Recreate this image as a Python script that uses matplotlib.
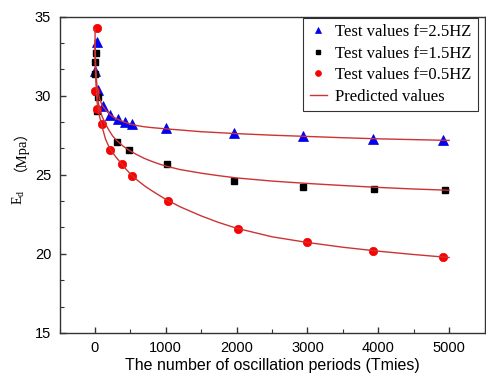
"""
Dynamic modulus vs number of oscillation periods, test values and predicted curves.
"""

import numpy as np
import matplotlib.pyplot as plt
from matplotlib.ticker import MultipleLocator

# test values
x_25 = [30, 5, 45, 120, 210, 320, 420, 530, 1000, 1960, 2940, 3920, 4910]
y_25 = [33.37, 31.54, 30.34, 29.33, 28.78, 28.50, 28.35, 28.18, 27.95, 27.64, 27.47, 27.28, 27.20]

x_15 = [20, 3, 5, 50, 30, 310, 485, 1015, 1965, 2942, 3940, 4945]
y_15 = [32.70, 32.12, 31.38, 29.92, 29.00, 27.07, 26.54, 25.68, 24.62, 24.21, 24.09, 24.05]

x_05 = [25, 3, 25, 100, 210, 385, 530, 1035, 2025, 2995, 3920, 4910]
y_05 = [34.26, 30.27, 29.18, 28.21, 26.58, 25.65, 24.94, 23.37, 21.58, 20.72, 20.19, 19.79]

# predicted curves (sampled along the drawn lines)
xp = [1, 10, 30, 60, 100, 150, 200, 250, 300, 400, 500, 600, 700, 800, 900, 1000,
      1200, 1500, 1750, 2000, 2500, 3000, 3500, 4000, 4500, 5000]
yp_25 = [33.5, 31.6, 30.6, 29.9, 29.4, 29.1, 28.85, 28.68, 28.55, 28.35, 28.2, 28.1, 28.03, 27.98, 27.94, 27.9,
         27.83, 27.72, 27.66, 27.6, 27.5, 27.42, 27.34, 27.27, 27.22, 27.17]
yp_15 = [33.0, 31.3, 30.0, 29.3, 28.7, 28.2, 27.8, 27.45, 27.2, 26.8, 26.5, 26.25, 26.03, 25.85, 25.69, 25.55,
         25.33, 25.1, 24.94, 24.8, 24.6, 24.45, 24.32, 24.2, 24.1, 24.02]
yp_05 = [34.2, 31.5, 29.6, 28.8, 28.05, 27.25, 26.75, 26.4, 26.1, 25.55, 25.05, 24.65, 24.3, 24.0, 23.72, 23.45,
         22.98, 22.4, 21.98, 21.62, 21.08, 20.72, 20.42, 20.17, 19.96, 19.77]

xticks = [0, 1000, 2000, 3000, 4000, 5000]
yticks = [15, 20, 25, 30, 35]

curve_col = '#cc3333'
serif = ['Liberation Serif', 'DejaVu Serif']
sans = ['Liberation Sans', 'DejaVu Sans']

plt.close('all')
fig = plt.figure(figsize=(4.86, 3.84), dpi=100)
ax = fig.add_axes([59.5/486, 1-333/384, 425/486, (333-16.5)/384])

ax.plot(x_25, y_25, '^', color='#0000ff', ms=6.5, mec='#0000cc', mew=0.5, label='Test values f=2.5HZ', zorder=3)
ax.plot(x_15, y_15, 's', color='black', ms=5, label='Test values f=1.5HZ', zorder=3)
ax.plot(x_05, y_05, 'o', color='#ff0000', ms=6, mec='#ee0000', mew=0.5, label='Test values f=0.5HZ', zorder=3)

ax.plot(xp, yp_25, '-', color=curve_col, lw=1, label='Predicted values', zorder=4)
ax.plot(xp, yp_15, '-', color=curve_col, lw=1, zorder=4)
ax.plot(xp, yp_05, '-', color=curve_col, lw=1, zorder=4)

ax.set_xlim(-500, 5500)
ax.set_ylim(15, 35)
ax.set_xticks(xticks)
ax.set_yticks(yticks)
ax.xaxis.set_minor_locator(MultipleLocator(500))
ax.yaxis.set_minor_locator(MultipleLocator(5/3))
ax.tick_params(which='both', direction='in', top=False, right=False, colors='#333333')
ax.tick_params(which='major', length=4, width=1, pad=6, labelsize=10.5, labelcolor='black')
ax.tick_params(which='minor', length=3, width=0.8)
for lab in ax.get_xticklabels() + ax.get_yticklabels():
    lab.set_family(sans)
for sp in ax.spines.values():
    sp.set_color('#333333')
    sp.set_linewidth(1)

ax.set_xlabel('The number of oscillation periods (Tmies)', family=sans, fontsize=11.5, labelpad=2)

# y label: E with subscript d, then the unit in full-width parentheses
fig.text(18.5/486, 1-205/384, 'E$_{\\mathregular{d}}$', rotation=90, ha='center', va='bottom',
         family=serif, fontsize=10)
fig.text(12/486, 1-171/384, '（Mpa）', rotation=90, ha='center', va='bottom',
         family=['Liberation Serif', 'Noto Sans CJK SC', 'DejaVu Serif'], fontsize=10.5)

leg = ax.legend(loc='upper right', bbox_to_anchor=(478/486, 1-17.5/384), bbox_transform=fig.transFigure,
                borderaxespad=0, frameon=True, fancybox=False, edgecolor='black',
                prop={'family': serif, 'size': 12}, markerscale=0.7, handlelength=1.0,
                handletextpad=0.5, labelspacing=0.33, borderpad=0.4)
leg.get_frame().set_linewidth(0.8)

fig.savefig('out.png', dpi=100)
